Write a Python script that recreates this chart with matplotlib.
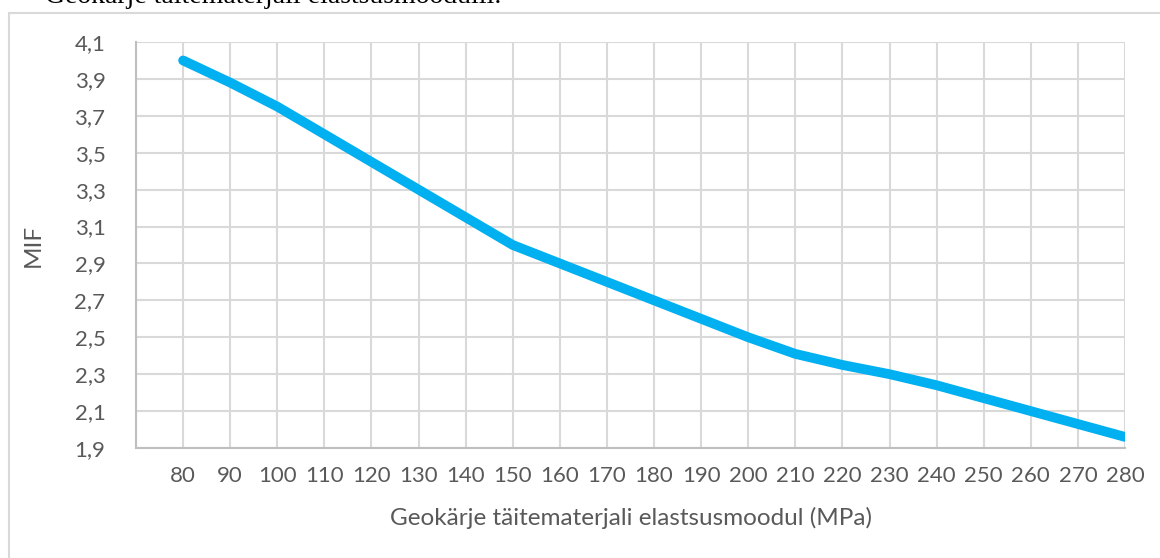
import matplotlib
matplotlib.use("Agg")
import matplotlib.pyplot as plt
from matplotlib.patches import Rectangle

# Data
modulus = [80, 90, 100, 110, 120, 130, 140, 150, 160, 170, 180,
           190, 200, 210, 220, 230, 240, 250, 260, 270, 280]
mif = [4.00, 3.88, 3.75, 3.60, 3.45, 3.30, 3.15, 3.00, 2.90, 2.80, 2.70,
       2.60, 2.50, 2.41, 2.35, 2.30, 2.24, 2.17, 2.10, 2.03, 1.96]
y_ticks = [1.9, 2.1, 2.3, 2.5, 2.7, 2.9, 3.1, 3.3, 3.5, 3.7, 3.9, 4.1]
x_label = "Geokärje täitematerjali elastsusmoodul (MPa)"
y_label = "MIF"
caption = "Geokärje täitematerjali elastsusmoodulil."

W, H = 1160, 558
fig = plt.figure(figsize=(W / 100, H / 100), dpi=100)
plt.rcParams['font.family'] = ['Lato', 'DejaVu Sans']
txt = '#595959'
grid = '#D9D9D9'

# chart-area border
fig.patches.append(Rectangle((9 / W, -0.05), 1.2, 1 - 13 / H + 0.05,
                             transform=fig.transFigure, fill=False,
                             edgecolor='#D9D9D9', linewidth=1.5))
# cut-off caption at the top
fig.text(45 / W, 1 - 3 / H, caption, family='Liberation Serif', fontsize=20,
         color='black', ha='left', va='baseline')

ax = fig.add_axes([136 / W, 1 - 448 / H, (1125 - 136) / W, (448 - 42) / H])
ax.plot(modulus, mif, color='#00B0F0', linewidth=7, solid_capstyle='round',
        solid_joinstyle='round', zorder=3)

ax.set_xlim(70, 280)
ax.set_ylim(1.9, 4.1)
ax.set_xticks(list(range(70, 281, 10)))
ax.set_xticklabels([''] + [str(v) for v in modulus])
ax.set_yticks(y_ticks)
ax.set_yticklabels([f"{v:.1f}".replace('.', ',') for v in y_ticks])
ax.grid(True, color=grid, linewidth=1.5)
ax.set_axisbelow(True)
for s in ['top', 'right']:
    ax.spines[s].set_visible(False)
for s in ['left', 'bottom']:
    ax.spines[s].set_color('#BFBFBF')
    ax.spines[s].set_linewidth(1.5)
ax.tick_params(axis='x', length=0, pad=13, labelsize=16, colors=txt)
ax.tick_params(axis='y', length=0, pad=22, labelsize=16, colors=txt)
ax.set_xlabel(x_label, fontsize=17.5, color=txt, labelpad=15)
ax.set_ylabel(y_label, fontsize=17.5, color=txt, labelpad=22)

fig.savefig('out.png', dpi=100)
